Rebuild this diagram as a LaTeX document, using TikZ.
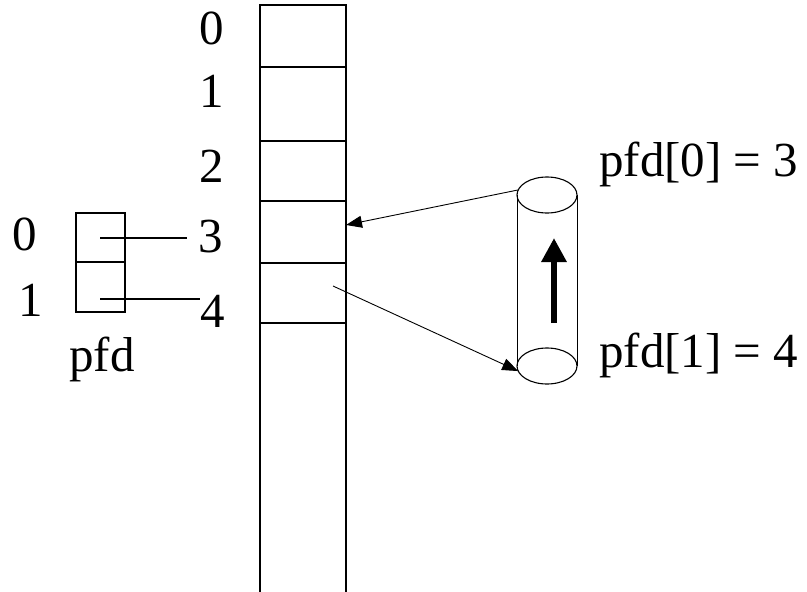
\documentclass[tikz,border=0pt]{standalone}
\usepackage{fontspec}
\setmainfont{Liberation Serif}
\usetikzlibrary{arrows.meta,shapes.geometric}

\tikzset{
  cell/.style={draw, line width=1.3pt, minimum width=86pt, inner sep=0pt, outer sep=0pt, anchor=north west},
  slot/.style={draw, line width=1.2pt, minimum width=49pt, minimum height=49pt, inner sep=0pt, outer sep=0pt, anchor=north west},
  lbl/.style={font=\fontsize{49}{54}\selectfont, anchor=base, inner sep=0pt},
  pipeend/.style={draw, ellipse, line width=1.1pt, minimum width=60pt, minimum height=36pt, inner sep=0pt, outer sep=0pt},
  ptr/.style={line width=0.9pt, -{Triangle[length=16pt,width=12pt]}},
  link/.style={line width=1.1pt},
  flow/.style={line width=6pt, -{Triangle[length=24pt,width=24pt]}}
}

\begin{document}
\begin{tikzpicture}[x=1pt, y=-1pt]
\useasboundingbox (0,0) rectangle (807,592);

% descriptor table column
\node[cell, minimum height=62pt]  (c0) at (260,5)   {};
\node[cell, minimum height=74pt]  (c1) at (260,67)  {};
\node[cell, minimum height=60pt]  (c2) at (260,141) {};
\node[cell, minimum height=62pt]  (c3) at (260,201) {};
\node[cell, minimum height=60pt]  (c4) at (260,263) {};
\coordinate (bl) at (260,593);
\coordinate (br) at (346,593);
\draw[line width=1.3pt] (c4.south west) -- (bl);
\draw[line width=1.3pt] (c4.south east) -- (br);

% column indices
\node[lbl] (i0) at (212,44)  {0};
\node[lbl] (i1) at (212,107) {1};
\node[lbl] (i2) at (212,182) {2};
\node[lbl] (i3) at (211,252) {3};
\node[lbl] (i4) at (213,327) {4};

% the pfd array
\node[slot] (p0) at (76,213) {};
\node[slot, minimum height=50pt] (p1) at (76,262) {};
\node[lbl] (j0) at (25,250) {0};
\node[lbl] (j1) at (31,316) {1};
\node[lbl] (pfd) at (102,371) {pfd};
\coordinate (s0) at (100,238);
\coordinate (s1) at (100,299);
\coordinate (e0) at (187,238);
\coordinate (e1) at (200,299);
\draw[link] (s0) -- (e0);
\draw[link] (s1) -- (e1);

% the pipe
\node[pipeend] (top) at (547,195) {};
\node[pipeend] (bot) at (547,366) {};
\draw[line width=0.9pt] (top.west) -- (bot.west);
\draw[line width=0.9pt] (top.east) -- (bot.east);
\coordinate (fa) at (554,323);
\coordinate (fb) at (554,238);
\draw[flow] (fa) -- (fb);

% pointers between the table and the pipe ends
\coordinate (q0) at (c3.east |- 0,225);
\coordinate (q1) at (333,286);
\draw[ptr] (top.170) -- (q0);
\draw[ptr] (q1) -- (bot.190);

% end labels
\node[lbl, anchor=base west] (r0) at (599,176) {pfd[0] = 3};
\node[lbl, anchor=base west] (r1) at (599,367) {pfd[1] = 4};
\end{tikzpicture}
\end{document}
